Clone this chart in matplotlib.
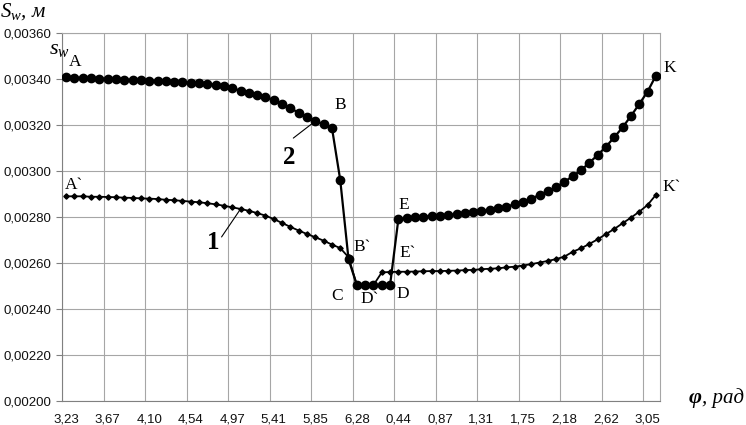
import matplotlib
matplotlib.use("Agg")
import matplotlib.pyplot as plt
from matplotlib.ticker import FixedLocator, NullFormatter

plt.rcParams['mathtext.fontset'] = 'custom'
plt.rcParams['mathtext.it'] = 'Liberation Serif:italic'
plt.rcParams['mathtext.rm'] = 'Liberation Serif'
plt.rcParams['mathtext.bf'] = 'Liberation Serif:bold'

# ---- data ----
tick_labels = ["3,23", "3,67", "4,10", "4,54", "4,97", "5,41", "5,85", "6,28",
               "0,44", "0,87", "1,31", "1,75", "2,18", "2,62", "3,05"]

# curve 2 (large dots), 72 points, 5 degree steps
s2 = [0.003407, 0.003406, 0.003404, 0.003403, 0.003402, 0.003401, 0.003399, 0.003397,
      0.003396, 0.003394, 0.003393, 0.003391, 0.003390, 0.003388, 0.003386, 0.003384,
      0.003381, 0.003378, 0.003375, 0.003371, 0.003360, 0.003349, 0.003340, 0.003330,
      0.003320, 0.003309, 0.003291, 0.003272, 0.003254, 0.003236, 0.003217, 0.003203,
      0.003188, 0.002961, 0.002616, 0.002504, 0.002504, 0.002504, 0.002504, 0.002504,
      0.002791, 0.002794, 0.002799, 0.002801, 0.002804, 0.002806, 0.002809, 0.002812,
      0.002816, 0.002820, 0.002826, 0.002830, 0.002838, 0.002845, 0.002855, 0.002867,
      0.002880, 0.002896, 0.002913, 0.002930, 0.002953, 0.002978, 0.003004, 0.003036,
      0.003070, 0.003106, 0.003147, 0.003190, 0.003239, 0.003291, 0.003345, 0.003414]

# curve 1 (small dots)
s1 = [0.002890, 0.002890, 0.002890, 0.002888, 0.002888, 0.002887, 0.002886, 0.002884,
      0.002883, 0.002881, 0.002880, 0.002878, 0.002875, 0.002873, 0.002870, 0.002867,
      0.002864, 0.002860, 0.002855, 0.002849, 0.002842, 0.002835, 0.002827, 0.002817,
      0.002806, 0.002791, 0.002774, 0.002757, 0.002741, 0.002726, 0.002712, 0.002697,
      0.002680, 0.002665, 0.002625, 0.002504, 0.002504, 0.002504, 0.002559, 0.002561,
      0.002562, 0.002562, 0.002563, 0.002564, 0.002565, 0.002565, 0.002566, 0.002567,
      0.002569, 0.002570, 0.002573, 0.002575, 0.002577, 0.002581, 0.002584, 0.002589,
      0.002595, 0.002602, 0.002609, 0.002617, 0.002628, 0.002649, 0.002664, 0.002683,
      0.002703, 0.002726, 0.002748, 0.002773, 0.002797, 0.002823, 0.002852, 0.002896]

y_ticks = [0.0020, 0.0022, 0.0024, 0.0026, 0.0028, 0.0030, 0.0032, 0.0034, 0.0036]

idx = list(range(len(s2)))

fig = plt.figure(figsize=(7.46, 4.25), dpi=100)
ax = fig.add_axes([62/746, 1-401/425, 598/746, 368/425])

grid_c = '#a6a6a6'
ax.plot(idx, s1, color='black', lw=1.3, marker='D', ms=2.7, mfc='black', mec='black', zorder=3)
ax.plot(idx, s2, color='black', lw=1.6, marker='o', ms=6.0, mfc='black', mec='black', zorder=4)

ax.set_xlim(-0.5, len(s2) - 0.5)
ax.set_ylim(y_ticks[0], y_ticks[-1])

# gridlines at category boundaries every 5 points, labels at category centres
ax.xaxis.set_major_locator(FixedLocator([5 * k for k in range(len(tick_labels))]))
ax.set_xticklabels(tick_labels)
ax.xaxis.set_minor_locator(FixedLocator([5 * k - 0.5 for k in range(len(tick_labels))]))
ax.xaxis.set_minor_formatter(NullFormatter())
ax.grid(True, which='minor', axis='x', color=grid_c, lw=0.8)
ax.tick_params(axis='x', which='both', length=0, pad=9, labelsize=9.5, labelcolor='#111111')
ax.set_yticks(y_ticks)
ax.set_yticklabels([("%.5f" % v).replace('.', ',') for v in y_ticks])
ax.grid(True, which='major', axis='y', color=grid_c, lw=0.8)
ax.tick_params(axis='y', length=4, color='#808080', pad=4, labelsize=9.5, labelcolor='#111111')
for lab in ax.get_xticklabels() + ax.get_yticklabels():
    lab.set_fontfamily('Liberation Sans')
for sp in ax.spines.values():
    sp.set_color(grid_c)
    sp.set_linewidth(0.8)
ax.spines['left'].set_color('#808080')
ax.spines['bottom'].set_color('#808080')

serif = 'Liberation Serif'
lab_kw = dict(textcoords='offset pixels', ha='center', va='center', fontsize=12.5, family=serif)

def lab(txt, i, ser, dx, dy):
    ax.annotate(txt, xy=(i, ser[i]), xytext=(dx, -dy), **lab_kw)

lab("A", 0, s2, 9, -15)
lab("A`", 0, s1, 8, -11)
lab("B", 32, s2, 8, -23)
lab("B`", 34, s2, 14, -12)
lab("C", 35, s2, -20, 11)
lab("D`", 37, s2, -4, 14)
lab("D", 39, s2, 13, 9)
lab("E", 40, s2, 5, -14)
lab("E`", 40, s1, 9, -19)
lab("K", 71, s2, 14, -8)
lab("K`", 71, s1, 16, -8)

# s_w near A
ax.annotate(r"$s_w$", xy=(0, s2[0]), xytext=(-7, 28), textcoords='offset pixels',
            ha='center', va='center', fontsize=16)

# callouts
ax.annotate("", xy=(30, s2[30]), xytext=(-22, -17), textcoords='offset pixels',
            arrowprops=dict(arrowstyle='-', color='black', lw=0.8, shrinkA=0, shrinkB=0))
ax.annotate("2", xy=(30, s2[30]), xytext=(-26, -36), textcoords='offset pixels',
            ha='center', va='center', fontsize=18, fontweight='bold', family=serif)
ax.annotate("", xy=(21, s1[21]), xytext=(-19, -28), textcoords='offset pixels',
            arrowprops=dict(arrowstyle='-', color='black', lw=0.8, shrinkA=0, shrinkB=0))
ax.annotate("1", xy=(21, s1[21]), xytext=(-27, -34), textcoords='offset pixels',
            ha='center', va='center', fontsize=18, fontweight='bold', family=serif)

# axis titles
fig.text(0/746, 1-12/425, r"$S_w$, м", ha='left', va='center', fontsize=15,
         family=serif, style='italic')
fig.text(689/746, 1-398/425, "φ", ha='left', va='center', fontsize=16,
         family=serif, style='italic', fontweight='bold')
fig.text(702/746, 1-398/425, ", рад", ha='left', va='center', fontsize=15,
         family=serif, style='italic')

fig.savefig("out.png", dpi=100)
